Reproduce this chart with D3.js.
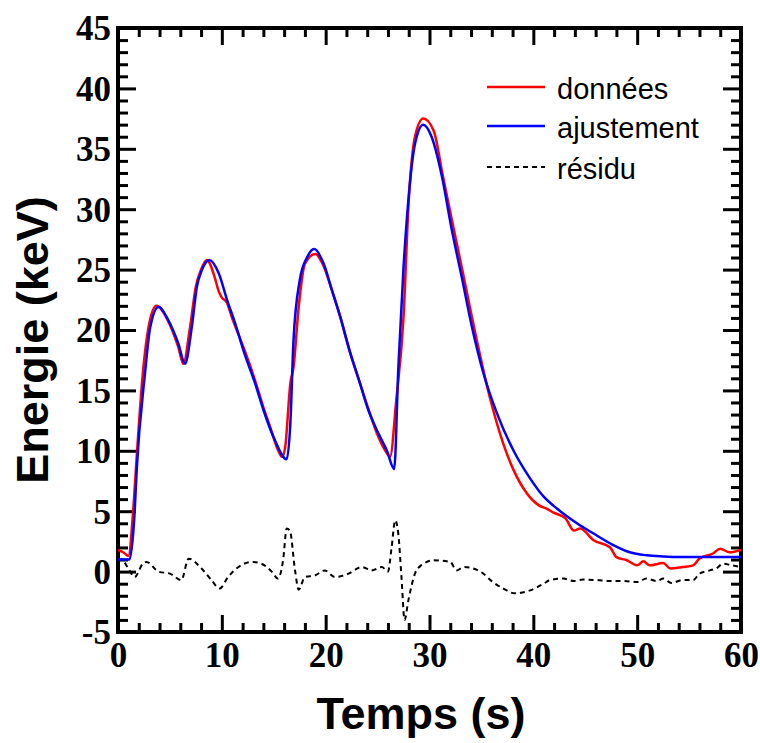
<!DOCTYPE html>
<html>
<head>
<meta charset="utf-8">
<script src="https://d3js.org/d3.v7.min.js"></script>
<style>
  html, body { margin: 0; padding: 0; background: #fff; }
  svg { display: block; }
</style>
</head>
<body>
<script>
// ---- Data ----
const timeData = [0,0.5,0.99,1.5,1.8,2.4,3.0,3.7,4.8,5.8,6.3,6.9,7.5,8.0,8.55,9.3,9.66,9.98,10.47,10.95,12.2,12.7,13.5,14.0,14.6,15.3,15.8,16.1,16.6,16.9,17.4,18.0,19.0,19.8,20.6,21.4,22.3,23.3,24.1,25.1,25.9,26.2,26.8,27.5,28.0,28.6,29.4,30.4,31.3,32.3,33.2,34.1,35.8,37.1,38.1,39.4,40.5,41.3,41.9,43.1,43.9,44.5,45.8,47.4,48.0,49.0,50.0,50.6,51.2,52.5,53.2,54.4,55.4,56.0,57.3,58.0,58.9,60];
const donnees = [1.8,1.6,1.3,5.5,9.5,16.5,20.5,22.0,20.8,18.6,17.2,20.0,23.6,25.0,25.8,24.4,23.3,22.7,22.3,21.1,18.3,17.1,15.0,13.6,12.1,10.3,9.5,10.3,15.6,16.9,21.9,25.5,26.3,25.3,23.3,21.1,18.3,15.6,13.5,11.1,9.8,9.5,14.2,21.1,30.7,36.0,37.5,36.5,32.7,28.5,24.8,21.0,14.45,10.6,8.4,6.45,5.5,5.2,4.9,4.4,3.4,3.56,2.6,2.0,1.2,0.94,0.52,0.85,0.52,0.71,0.25,0.38,0.52,1.08,1.5,1.9,1.6,1.8];

const timeFit = [0,1.1,1.6,1.8,2.6,3.1,3.9,4.85,5.8,6.45,7.1,7.6,8.05,8.8,9.7,10.5,11.3,12.2,13.2,14.0,15.0,16.25,16.6,16.9,17.5,18.2,18.9,19.8,20.6,21.4,22.3,23.3,24.1,25.1,25.9,26.6,27.0,27.5,27.96,28.6,29.4,30.2,31.2,32.1,33.1,34.1,35.2,36.5,38.1,39.7,41.0,42.3,44.2,45.8,47.7,49.3,50.9,52.5,54.1,57.0,60];
const ajustement = [1.0,1.0,4.9,8.4,16.4,20.2,21.9,20.8,18.9,17.2,20.2,23.6,24.9,25.8,24.7,22.5,20.5,18.0,15.6,13.4,11.1,9.3,12.3,19.1,24.1,26.0,26.7,25.5,23.3,21.1,18.3,15.6,13.4,11.4,10.0,8.5,16.9,25.2,30.7,35.4,37.0,36.0,32.7,28.5,24.4,20.2,16.4,13.1,10.0,7.7,6.2,5.2,4.0,3.15,2.2,1.6,1.35,1.25,1.2,1.2,1.2];

const timeRes = [0,0.35,1.0,1.6,2.4,2.75,3.9,5.0,6.1,6.8,8.05,9.0,9.8,10.6,11.6,12.9,13.8,14.8,15.4,15.9,16.25,16.55,17.05,17.4,18.0,19.0,19.9,20.9,22.2,23.5,24.4,25.4,26.0,26.35,26.7,27.0,27.3,27.6,27.96,28.6,29.2,30.4,32.0,32.6,33.3,34.9,36.1,37.1,38.2,39.7,41.0,41.6,42.9,43.9,44.8,46.1,47.4,48.7,50.0,50.9,51.9,52.5,53.3,54.4,55.4,56.0,57.0,57.6,58.3,59.1,60];
const residu = [0.8,1.0,0.25,-0.45,0.66,0.8,0,-0.17,-0.7,1.07,0.25,-0.7,-1.4,-0.45,0.38,0.8,0.66,0,-0.58,0.94,3.56,3.4,0.1,-1.5,-0.45,-0.3,0.1,-0.45,-0.17,0.38,0.1,0.38,0,2.0,4.25,3.1,-0.45,-4.0,-2.4,-0.17,0.52,0.94,0.8,0.1,0.38,0,-0.86,-1.4,-1.8,-1.55,-1.0,-0.7,-0.58,-0.78,-0.66,-0.7,-0.78,-0.78,-0.86,-0.58,-0.78,-0.58,-0.94,-0.7,-0.7,-0.17,0.1,0.25,0.66,0.52,0.38];

const xMajorTicks = [0,10,20,30,40,50,60];
const yMajorTicks = [-5,0,5,10,15,20,25,30,35,40,45];
const seriesNames = ["données","ajustement","résidu"];
const seriesColors = ["#ff0000","#0000ff","#000000"];
const xTitle = "Temps (s)";
const yTitle = "Energie (keV)";

// ---- Layout ----
const W = 760, H = 743;
const L = 118, R = 741, T = 28, B = 632;

const svg = d3.select("body").append("svg").attr("width", W).attr("height", H);

const x = d3.scaleLinear().domain([0, 60]).range([L, R]);
const y = d3.scaleLinear().domain([-5, 45]).range([B, T]);

const xMinor = d3.range(0, 61, 2).filter(v => v % 10 !== 0);
const yMinor = d3.range(-5, 46, 1).filter(v => v % 5 !== 0);

svg.append("clipPath").attr("id", "clip")
  .append("rect").attr("x", L).attr("y", T).attr("width", R - L).attr("height", B - T);

function styleAxis(g) {
  g.select(".domain").remove();
  g.selectAll(".tick line").attr("stroke", "#000").attr("stroke-width", 3);
}
const fmt = d => String(d);

// minor ticks
svg.append("g").attr("transform", `translate(0,${B})`)
  .call(d3.axisBottom(x).tickValues(xMinor).tickSize(-9).tickFormat(""))
  .call(styleAxis);
svg.append("g").attr("transform", `translate(0,${T})`)
  .call(d3.axisTop(x).tickValues(xMinor).tickSize(-9).tickFormat(""))
  .call(styleAxis);
svg.append("g").attr("transform", `translate(${L},0)`)
  .call(d3.axisLeft(y).tickValues(yMinor).tickSize(-10).tickFormat(""))
  .call(styleAxis);
svg.append("g").attr("transform", `translate(${R},0)`)
  .call(d3.axisRight(y).tickValues(yMinor).tickSize(-10).tickFormat(""))
  .call(styleAxis);

// major ticks with labels
const xb = svg.append("g").attr("transform", `translate(0,${B})`)
  .call(d3.axisBottom(x).tickValues(xMajorTicks).tickSizeInner(-17).tickSizeOuter(0).tickPadding(0).tickFormat(fmt))
  .call(styleAxis);
xb.selectAll(".tick text")
  .attr("y", 35).attr("dy", 0)
  .attr("font-family", "'Liberation Serif','Times New Roman',serif")
  .attr("font-weight", "bold").attr("font-size", 35).attr("fill", "#000");

svg.append("g").attr("transform", `translate(0,${T})`)
  .call(d3.axisTop(x).tickValues(xMajorTicks).tickSize(-17).tickFormat(""))
  .call(styleAxis);

const yl = svg.append("g").attr("transform", `translate(${L},0)`)
  .call(d3.axisLeft(y).tickValues(yMajorTicks).tickSizeInner(-18).tickSizeOuter(0).tickPadding(0).tickFormat(fmt))
  .call(styleAxis);
yl.selectAll(".tick text")
  .attr("x", -7).attr("dy", "0.34em")
  .attr("font-family", "'Liberation Serif','Times New Roman',serif")
  .attr("font-weight", "bold").attr("font-size", 35).attr("fill", "#000");

svg.append("g").attr("transform", `translate(${R},0)`)
  .call(d3.axisRight(y).tickValues(yMajorTicks).tickSize(-18).tickFormat(""))
  .call(styleAxis);

// frame
svg.append("rect").attr("x", L).attr("y", T).attr("width", R - L).attr("height", B - T)
  .attr("fill", "none").attr("stroke", "#000").attr("stroke-width", 4);

// ---- Lines ----
const plot = svg.append("g").attr("clip-path", "url(#clip)");
const mkLine = (xs) => d3.line().x((d, i) => x(xs[i])).y(d => y(d)).curve(d3.curveMonotoneX);

plot.append("path").datum(residu).attr("d", mkLine(timeRes))
  .attr("fill", "none").attr("stroke", seriesColors[2]).attr("stroke-width", 2)
  .attr("stroke-dasharray", "5,4");
plot.append("path").datum(donnees).attr("d", mkLine(timeData))
  .attr("fill", "none").attr("stroke", seriesColors[0]).attr("stroke-width", 2.5)
  .attr("stroke-linejoin", "round");
plot.append("path").datum(ajustement).attr("d", mkLine(timeFit))
  .attr("fill", "none").attr("stroke", seriesColors[1]).attr("stroke-width", 2.5)
  .attr("stroke-linejoin", "round");

// ---- Legend ----
const legY = [87, 126, 167];
const leg = svg.append("g");
seriesNames.forEach((name, i) => {
  leg.append("line").attr("x1", 487).attr("x2", 545).attr("y1", legY[i]).attr("y2", legY[i])
    .attr("stroke", seriesColors[i]).attr("stroke-width", i === 2 ? 2 : 2.5)
    .attr("stroke-dasharray", i === 2 ? "5,4" : null);
  leg.append("text").attr("x", 557).attr("y", legY[i] + 12)
    .attr("font-family", "'Liberation Sans',Arial,sans-serif")
    .attr("font-size", 29).attr("fill", "#000").text(name);
});

// ---- Axis titles ----
svg.append("text").attr("x", 421).attr("y", 729).attr("text-anchor", "middle")
  .attr("font-family", "'Liberation Sans',Arial,sans-serif").attr("font-weight", "bold")
  .attr("font-size", 45).attr("fill", "#000").text(xTitle);
svg.append("text").attr("transform", "translate(48,340) rotate(-90)").attr("text-anchor", "middle")
  .attr("font-family", "'Liberation Sans',Arial,sans-serif").attr("font-weight", "bold")
  .attr("font-size", 45).attr("fill", "#000").text(yTitle);
</script>
</body>
</html>
